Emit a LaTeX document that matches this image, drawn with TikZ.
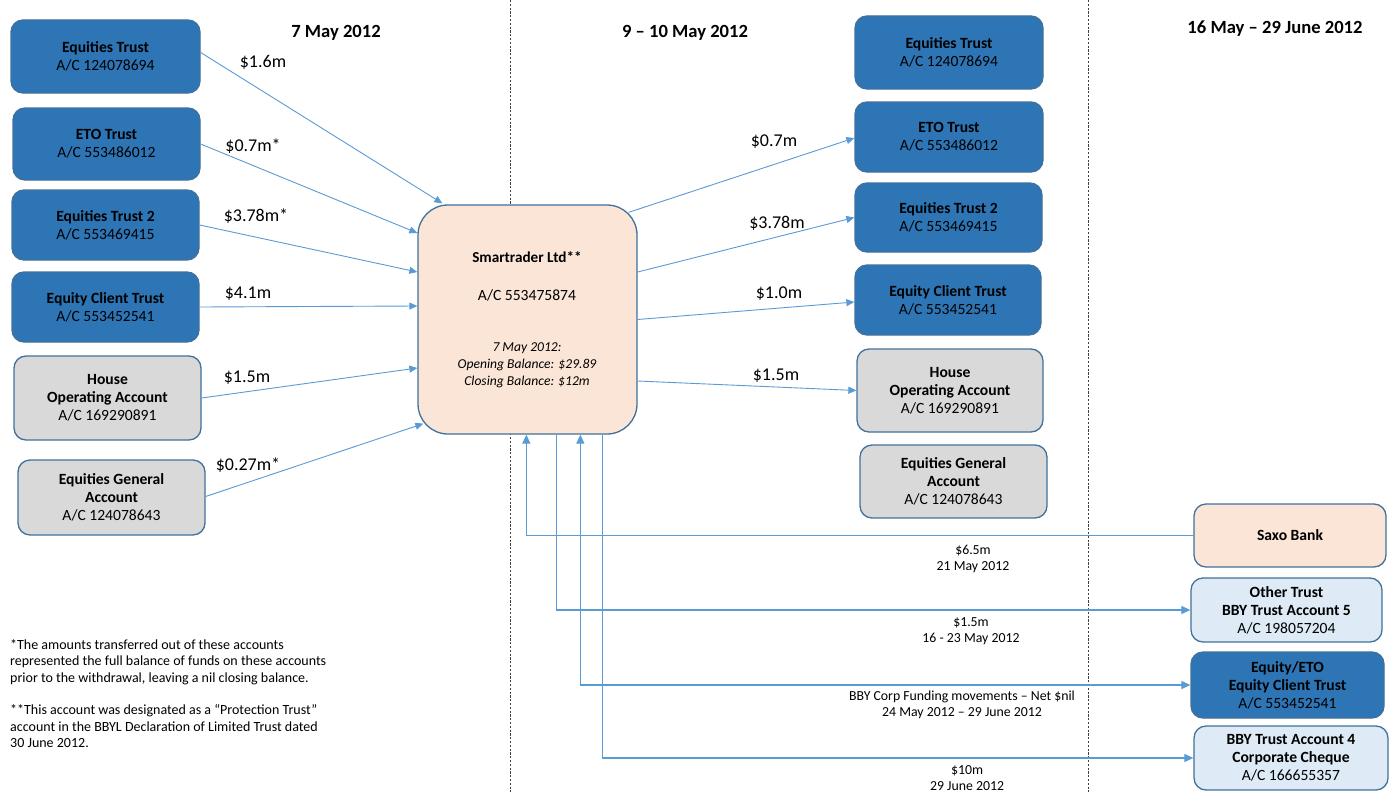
\documentclass[tikz,border=0pt]{standalone}
\usepackage{fontspec}
\setmainfont{Carlito}
\usetikzlibrary{arrows.meta,calc}
\definecolor{bluefill}{HTML}{2E75B6}
\definecolor{boxline}{HTML}{41719C}
\definecolor{grayfill}{HTML}{D9D9D9}
\definecolor{peach}{HTML}{FBE5D6}
\definecolor{lightblue}{HTML}{DEEBF7}
\definecolor{conncol}{HTML}{5B9BD5}
\definecolor{divcol}{HTML}{404040}
\begin{document}
\begin{tikzpicture}[x=1pt,y=-1pt,
  acct/.style={draw=boxline, line width=1.3pt, rounded corners=12pt, align=center,
    inner sep=2pt, font=\fontsize{15.6}{18}\selectfont},
  bluebox/.style={acct, fill=bluefill},
  graybox/.style={acct, fill=grayfill},
  peachbox/.style={acct, fill=peach},
  lbbox/.style={acct, fill=lightblue},
  conn/.style={draw=conncol, line width=0.9pt, -{Triangle[width=7pt,length=8pt]}},
  connb/.style={draw=conncol, line width=1.2pt},
  amt/.style={font=\fontsize{18}{21}\selectfont, inner sep=0pt},
  smalllbl/.style={font=\fontsize{13.8}{16.5}\selectfont, align=center, inner sep=0pt},
  period/.style={font=\bfseries\fontsize{18.6}{21}\selectfont, inner sep=0pt},
  divider/.style={draw=divcol, line width=0.8pt, dash pattern=on 2.2pt off 1.6pt}
]
\useasboundingbox (0,0) rectangle (1394,792);
\fill[white] (0,0) rectangle (1394,792);

% dividers
\draw[divider] (510,0) -- (510,792);
\draw[divider] (1088,0) -- (1088,792);

% period titles
\node[period] (t1) at (336,33) {7 May 2012};
\node[period] (t2) at (685,33) {9 -- 10 May 2012};
\node[period] (t3) at (1275,29) {16 May -- 29 June 2012};

% left column
\node[bluebox, minimum width=189pt, minimum height=73pt] (l1) at (105.5,56.5) {\textbf{Equities Trust}\\A/C 124078694};
\node[bluebox, minimum width=187pt, minimum height=72pt] (l2) at (106.5,144) {\textbf{ETO Trust}\\A/C 553486012};
\node[bluebox, minimum width=187pt, minimum height=70pt] (l3) at (105.5,225) {\textbf{Equities Trust 2}\\A/C 553469415};
\node[bluebox, minimum width=187pt, minimum height=70pt] (l4) at (105.5,307) {\textbf{Equity Client Trust}\\A/C 553452541};
\node[graybox, minimum width=187pt, minimum height=84pt] (l5) at (107.5,398) {\textbf{House}\\\textbf{Operating Account}\\A/C 169290891};
\node[graybox, minimum width=187pt, minimum height=75pt] (l6) at (111.5,497.5) {\textbf{Equities General}\\\textbf{Account}\\A/C 124078643};

% central node
\node[peachbox, rounded corners=30pt, minimum width=219pt, minimum height=229pt] (smart) at (527.5,319.5) {};
\node[font=\bfseries\fontsize{15.2}{18}\selectfont, inner sep=0pt] (smartname) at (527,257) {Smartrader Ltd**};
\node[font=\fontsize{15.6}{18}\selectfont, inner sep=0pt] (smartac) at (527,295) {A/C 553475874};
\node[font=\itshape\fontsize{13.6}{17}\selectfont, align=center, inner sep=0pt] (smartbal) at (527,365) {7 May 2012:\\Opening Balance: \$29.89\\Closing Balance: \$12m};

% middle-right column
\node[bluebox, minimum width=188pt, minimum height=73pt] (r1) at (949,52.5) {\textbf{Equities Trust}\\A/C 124078694};
\node[bluebox, minimum width=188pt, minimum height=70pt] (r2) at (949,137) {\textbf{ETO Trust}\\A/C 553486012};
\node[bluebox, minimum width=187pt, minimum height=69pt] (r3) at (948.5,217.5) {\textbf{Equities Trust 2}\\A/C 553469415};
\node[bluebox, minimum width=186pt, minimum height=70pt] (r4) at (948,300) {\textbf{Equity Client Trust}\\A/C 553452541};
\node[graybox, minimum width=186pt, minimum height=83pt] (r5) at (950,390.5) {\textbf{House}\\\textbf{Operating Account}\\A/C 169290891};
\node[graybox, minimum width=187pt, minimum height=73pt] (r6) at (953.5,481.5) {\textbf{Equities General}\\\textbf{Account}\\A/C 124078643};

% far-right column
\node[peachbox, minimum width=192pt, minimum height=63pt] (saxo) at (1290,535.5) {\textbf{Saxo Bank}};
\node[lbbox, minimum width=191pt, minimum height=64pt] (other) at (1286.5,610) {\textbf{Other Trust}\\\textbf{BBY Trust Account 5}\\A/C 198057204};
\node[bluebox, minimum width=193pt, minimum height=66pt] (eqeto) at (1287.5,685) {\textbf{Equity/ETO}\\\textbf{Equity Client Trust}\\A/C 553452541};
\node[lbbox, minimum width=194pt, minimum height=64pt] (bby4) at (1291,758) {\textbf{BBY Trust Account 4}\\\textbf{Corporate Cheque}\\A/C 166655357};

% incoming transfers (7 May 2012)
\draw[conn] ($(l1.east)+(0,-4)$) -- ($(smart.north west)+(25,-1)$);
\draw[conn] (l2.east) -- ($(smart.west)+(0,-86.5)$);
\draw[conn] (l3.east) -- ($(smart.west)+(0,-47.5)$);
\draw[conn] (l4.east) -- ($(smart.west)+(0,-13.5)$);
\draw[conn] (l5.east) -- ($(smart.west)+(0,48.5)$);
\draw[conn] ($(l6.east)+(0,-1)$) -- ($(smart.south west)+(6,-11)$);

\node[amt] (a1) at (263,62) {\$1.6m};
\node[amt] (a2) at (253,146) {\$0.7m*};
\node[amt] (a3) at (256,216) {\$3.78m*};
\node[amt] (a4) at (248,294) {\$4.1m};
\node[amt] (a5) at (247,378) {\$1.5m};
\node[amt] (a6) at (248,465) {\$0.27m*};

% outgoing transfers (9-10 May 2012)
\draw[conn] ($(smart.north east)+(-9,8)$) -- ($(r2.west)+(0,1)$);
\draw[conn] ($(smart.east)+(0,-47.5)$) -- (r3.west);
\draw[conn] (smart.east) -- ($(r4.west)+(0,2)$);
\draw[conn] ($(smart.east)+(0,61.5)$) -- (r5.west);

\node[amt] (b1) at (774,142) {\$0.7m};
\node[amt] (b2) at (777,223) {\$3.78m};
\node[amt] (b3) at (779,294) {\$1.0m};
\node[amt] (b4) at (776,376) {\$1.5m};

% later movements (16 May - 29 June 2012)
\draw[connb, -{Triangle[width=8pt,length=9pt]}] (saxo.west) -| ($(smart.south west)+(109,0)$);
\draw[connb, -{Triangle[width=8pt,length=9pt]}] ($(smart.south west)+(139,0)$) |- (other.west);
\draw[connb, {Triangle[width=8pt,length=9pt]}-{Triangle[width=8pt,length=9pt]}] ($(smart.south west)+(163,0)$) |- (eqeto.west);
\draw[connb, -{Triangle[width=8pt,length=9pt]}] ($(smart.south west)+(185,0)$) |- (bby4.west);

\node[smalllbl] (c1) at (973,559) {\$6.5m\\21 May 2012};
\node[smalllbl] (c2) at (971,631) {\$1.5m\\16 - 23 May 2012};
\node[smalllbl] (c3) at (962,705) {BBY Corp Funding movements -- Net \$nil\\24 May 2012 -- 29 June 2012};
\node[smalllbl] (c4) at (967,778) {\$10m\\29 June 2012};

% footnotes
\node[font=\fontsize{14}{16.3}\selectfont, align=left, inner sep=0pt, anchor=north west] (notes) at (10,639.5)
 {*The amounts transferred out of these accounts\\
  represented the full balance of funds on these accounts\\
  prior to the withdrawal, leaving a nil closing balance.\\[16.3pt]
  **This account was designated as a “Protection Trust”\\
  account in the BBYL Declaration of Limited Trust dated\\
  30 June 2012.};
\end{tikzpicture}
\end{document}
